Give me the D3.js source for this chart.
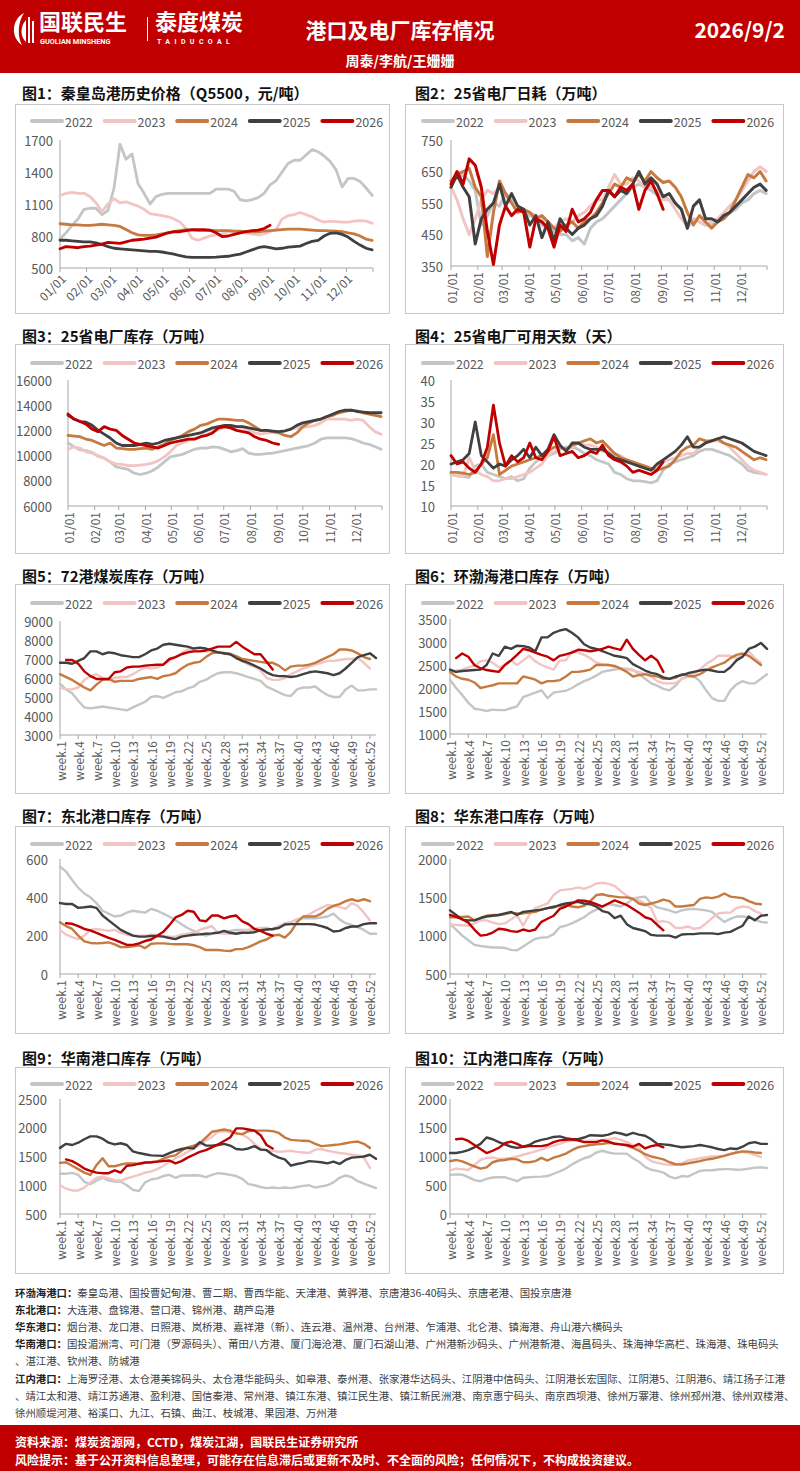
<!DOCTYPE html>
<html><head><meta charset="utf-8">
<script src="https://cdn.jsdelivr.net/npm/d3@7"></script>
<style>
body{margin:0;background:#fff;}
svg{display:block;font-family:"Noto Sans CJK SC","Noto Sans",sans-serif;}
</style>
</head><body>
<svg id="c" width="800" height="1471"></svg>
<script>
// ---------- categories / ticks ----------
const years = ["2022","2023","2024","2025","2026"];
const monthLabels = ["01/01","02/01","03/01","04/01","05/01","06/01","07/01","08/01","09/01","10/01","11/01","12/01"];
const monthStartDays = [0,31,59,90,120,151,181,212,243,273,304,334];
const weekTickNums = [1,4,7,10,13,16,19,22,25,28,31,34,37,40,43,46,49,52];

// ---------- Fig1: 秦皇岛港价格 (weekly samples, day = i*7) ----------
const p1_2022 = [770,830,900,960,1050,1060,1060,1000,1040,1250,1660,1520,1570,1290,1200,1100,1170,1190,1200,1200,1200,1200,1200,1200,1200,1200,1240,1240,1240,1220,1140,1130,1140,1160,1200,1280,1320,1400,1480,1510,1510,1560,1610,1590,1550,1500,1420,1260,1340,1340,1310,1250,1180];
const p1_2023 = [1180,1200,1210,1200,1200,1170,1110,1030,1100,1150,1110,1120,1100,1080,1050,1010,1000,990,980,960,930,870,780,760,780,800,810,820,840,840,830,830,820,810,820,840,860,960,990,1000,1020,1000,980,950,930,940,935,930,930,940,945,940,920];
const p1_2024 = [915,910,905,905,900,900,905,910,905,900,890,860,830,810,805,805,810,820,830,840,850,860,855,850,850,850,850,850,850,845,845,840,840,840,845,850,855,860,865,865,865,860,855,850,850,848,845,840,830,820,800,770,760];
const p1_2025 = [760,760,755,750,745,745,735,720,700,685,680,675,670,665,660,655,655,650,640,630,615,605,600,600,600,600,602,606,610,620,630,650,670,690,700,690,680,685,695,700,705,730,750,760,800,825,830,815,790,750,715,685,670];
const p1_2026 = [680,700,695,690,700,705,715,725,740,735,730,745,760,765,770,780,790,810,830,840,840,850,860,860,860,855,830,795,800,815,830,840,850,855,870,900];
const p1_yticks = [500,800,1100,1400,1700];

// ---------- Fig2: 25省电厂日耗 ----------
const p2_2022 = [620,630,640,620,590,480,510,550,540,580,560,540,520,510,500,480,470,460,450,450,430,440,420,470,490,500,520,540,560,580,600,610,600,590,575,570,560,550,530,470,500,490,480,480,490,500,520,530,550,560,580,590,580];
const p2_2023 = [600,560,500,450,500,560,590,580,600,570,550,540,520,520,510,500,490,470,490,500,490,510,520,540,560,560,600,640,610,610,630,620,600,600,590,560,560,530,500,480,500,490,480,490,500,520,540,560,590,620,650,665,650];
const p2_2024 = [620,640,650,660,600,570,380,520,620,580,550,520,530,520,500,510,490,470,460,480,490,470,490,500,520,550,580,610,600,630,620,640,620,650,630,615,620,600,570,520,480,510,490,470,490,500,520,560,600,640,630,650,620];
const p2_2025 = [600,640,600,570,420,500,530,550,610,540,580,540,530,480,510,440,490,430,500,470,450,470,480,500,510,540,590,570,590,580,610,650,610,630,610,570,580,550,530,470,540,560,500,500,490,510,520,540,560,580,600,610,590];
const p2_2026 = [610,650,610,690,670,600,460,355,480,540,510,530,520,410,500,490,470,410,480,460,530,490,500,520,560,590,590,570,600,590,610,530,590,620,580,530];
const p2_yticks = [350,450,550,650,750];

// ---------- Fig3: 25省电厂库存 ----------
const p3_2022 = [11000,10700,10450,10400,10250,9950,9800,9500,9100,9000,8900,8600,8500,8600,8800,9100,9500,9900,10000,10100,10300,10500,10600,10600,10700,10650,10500,10300,10400,10550,10200,10100,10100,10150,10200,10300,10400,10500,10600,10700,10800,11000,11300,11400,11400,11400,11400,11350,11200,11000,10900,10700,10500];
const p3_2023 = [10500,10700,10600,10300,10200,10000,9800,9500,9350,9300,9200,9200,9250,9300,9400,9600,9900,10300,10800,11000,11200,11350,11500,11700,11900,12100,12200,12300,12300,12200,12000,11800,11700,11800,11850,11900,12000,12100,12200,12250,12300,12400,12600,12900,12900,12900,12900,12800,12900,12800,12300,11900,11700];
const p3_2024 = [11600,11550,11500,11300,11200,11000,10800,11000,10600,10550,10500,10500,10550,10600,10500,10700,10900,11200,11400,11600,11900,12100,12400,12500,12700,12900,12900,12850,12800,12800,12600,12300,12000,12000,11900,11800,11600,11500,11800,12300,12600,12800,12900,13100,13200,13400,13500,13600,13550,13400,13300,13200,13100];
const p3_2025 = [13200,12900,12700,12650,12400,12000,11700,11400,11000,10800,10800,10800,10900,11000,10900,11000,11200,11300,11400,11500,11600,11700,11800,12000,12200,12300,12400,12400,12300,12300,12200,12100,12000,12000,11950,11900,11950,12100,12400,12600,12700,12800,12900,13100,13300,13500,13600,13600,13500,13450,13400,13400,13400];
const p3_2026 = [13300,12900,12700,12500,12100,11900,12300,12100,12000,11600,11300,11000,10900,10800,10700,10600,10800,11000,11100,11200,11300,11300,11500,11600,11800,12200,12300,12200,12000,11900,11800,11500,11300,11200,11000,10900];
const p3_yticks = [6000,8000,10000,12000,14000,16000];

// ---------- Fig4: 25省电厂可用天数 ----------
const p4_2022 = [17.5,17.2,17,16.8,19.5,20,18,17.5,17,16.5,17,16,16.5,19,20.5,21.5,22,22.5,23.5,24,24,23.5,22.5,22,21,20.5,20,18,17.5,16.5,16,16,15.8,15.5,16,18.5,20,20.5,21,21.5,22,23,23.5,23.5,23,22.5,22,21,20,18.5,18,17.8,17.5];
const p4_2023 = [17.5,17.2,17,21.5,18.5,17.5,17,16,16,16.5,16.5,17,17.5,18,19,20,22,23,24,23.5,24,25,24.5,24.5,24,23,23,22.5,22,21,20,19.5,19,18.5,19,20.5,21,21.5,22,22.5,22.5,24,25,25.5,25.5,25,24,22.5,21,19.5,18.5,18,17.5];
const p4_2024 = [18,18,17.8,17.5,18,20,21.5,27,17.5,18.5,19.5,20,20.5,21,21.5,22,23,24,24,23.5,24.5,25,25.5,26,25,25.5,24,22.5,21.5,21,20.5,20,19.5,19,18.5,19,19.5,21,23,24,24.5,26,25.5,25.5,26,25,24.5,24,23,22,21,21.5,21];
const p4_2025 = [20,20.5,21,22.5,30,22,20.5,19,20,19.5,21,22,23.5,21.5,24,22,23.5,27,24.5,23,25,25,24,23.5,23.5,23.5,22.5,21.5,21,20.5,20,19.5,19,18.5,20,21,22,23,24.5,26.5,24,24,25,25.5,26,26.5,26,25.5,25,24,23,22.5,22];
const p4_2026 = [22,20,20.5,19,18,20,24,34,25,19.5,22,20.5,21.5,25,21.5,21,23,26.5,22,22.5,23,21.5,22,23,22.5,24.5,22,21,20.5,19.5,18,18.5,18,17.5,18.5,20.5];
const p4_yticks = [10,15,20,25,30,35,40];

// ---------- Fig5: 72港煤炭库存 (week.1 ..) ----------
const p5_2022 = [5700,5400,5200,4800,4450,4400,4450,4500,4450,4400,4350,4300,4450,4600,4750,5000,5050,4950,5100,5250,5300,5450,5550,5800,5900,6100,6250,6300,6300,6250,6150,6050,5950,5850,5550,5400,5250,5100,5050,5400,5500,5500,5550,5300,5100,5000,5000,5400,5600,5350,5350,5400,5400];
const p5_2023 = [5500,5400,5400,5500,5900,6100,6200,6000,5900,6000,6050,6050,6200,6400,6550,6500,6550,6700,6900,7100,7300,7500,7450,7450,7400,7400,7350,7300,7300,7100,6900,6700,6600,6400,6000,5900,5900,6000,6200,6350,6500,6600,6700,6800,6900,6900,6950,7000,7000,7050,6800,6500];
const p5_2024 = [6200,6050,5900,5700,5500,5350,5650,5900,5950,5800,5850,5850,5850,5950,6000,6050,5950,6100,6150,6250,6500,6700,6800,6850,7100,7300,7350,7300,7250,7150,7000,6950,6900,6850,6800,6800,6650,6400,6600,6650,6650,6700,6800,6950,7100,7250,7500,7500,7450,7300,7100,7000];
const p5_2025 = [6800,6800,6750,6900,7050,7400,7400,7250,7350,7300,7200,7150,7100,7100,7250,7450,7550,7750,7800,7750,7700,7650,7550,7600,7550,7450,7350,7300,7250,7050,6900,6800,6650,6500,6300,6150,6100,6100,6050,6100,6200,6300,6350,6300,6250,6150,6250,6500,6800,7100,7200,7300,7050];
const p5_2026 = [null,6950,6950,6750,6350,6100,5950,5950,5950,6300,6350,6550,6600,6600,6650,6680,6700,6700,7000,7100,7250,7350,7400,7400,7450,7550,7650,7650,7650,7900,7650,7450,7250,7250,6850,6450];
const p5_yticks = [3000,4000,5000,6000,7000,8000,9000];

// ---------- Fig6: 环渤海港口库存 ----------
const p6_2022 = [2180,2000,1850,1680,1550,1530,1500,1530,1520,1520,1560,1600,1800,1850,1900,1950,1780,1900,1920,1940,2000,2080,2150,2200,2270,2350,2380,2400,2420,2420,2400,2300,2200,2100,2050,1980,1950,2050,2200,2250,2250,2150,1950,1780,1720,1720,1950,2080,2150,2100,2100,2200,2300];
const p6_2023 = [2320,2380,2400,2450,2480,2580,2600,2550,2450,2500,2600,2500,2600,2700,2580,2500,2450,2400,2600,2600,2800,2770,2720,2650,2550,2520,2500,2450,2430,2400,2380,2350,2300,2250,2150,2100,2100,2100,2200,2250,2300,2400,2520,2600,2700,2700,2700,2650,2700,2800,2650,2550];
const p6_2024 = [2350,2250,2200,2180,2120,2000,2030,2060,2100,2100,2100,2100,2250,2220,2180,2100,2150,2150,2170,2250,2350,2350,2370,2400,2500,2500,2500,2480,2420,2350,2250,2280,2300,2270,2250,2200,2200,2220,2300,2270,2250,2300,2380,2450,2500,2550,2650,2720,2750,2700,2600,2500];
const p6_2025 = [2400,2350,2370,2380,2390,2400,2500,2750,2700,2900,2850,2920,2910,2880,2800,3100,3100,3200,3250,3280,3200,3100,2950,2880,2850,2800,2750,2700,2680,2650,2520,2450,2380,2330,2300,2230,2200,2250,2280,2320,2350,2380,2400,2380,2350,2350,2450,2600,2680,2850,2900,2980,2850];
const p6_2026 = [null,2650,2750,2680,2500,2430,2390,2370,2350,2500,2600,2720,2850,2820,2770,2720,2680,2600,2700,2730,2770,2830,2820,2800,2820,2850,2900,2860,2830,3050,2850,2720,2600,2700,2600,2350];
const p6_yticks = [1000,1500,2000,2500,3000,3500];

// ---------- Fig7: 东北港口库存 ----------
const p7_2022 = [560,535,490,450,420,400,370,330,315,300,305,320,330,325,320,340,330,315,300,280,260,240,225,210,200,210,220,220,225,230,230,230,230,240,240,230,250,260,270,285,290,290,290,295,300,315,285,265,255,245,230,210,210];
const p7_2023 = [230,205,192,182,200,230,235,230,225,230,215,205,200,200,200,205,202,200,195,195,205,210,215,230,240,250,215,210,210,215,225,230,238,240,230,235,250,265,270,285,295,310,330,345,360,355,350,340,370,355,320,280];
const p7_2024 = [270,250,235,200,170,162,160,162,165,155,140,140,145,150,135,158,160,160,157,155,155,155,150,140,125,125,125,122,120,130,130,140,155,170,180,200,205,190,220,270,300,300,300,315,340,355,365,380,390,380,390,380];
const p7_2025 = [370,365,365,345,348,352,345,305,280,255,230,215,200,195,195,198,198,195,188,182,195,200,205,207,210,212,215,225,215,210,215,215,218,228,232,235,240,258,260,260,260,260,258,250,240,222,225,240,248,248,260,265,265];
const p7_2026 = [null,265,262,250,235,228,215,202,188,178,165,152,152,160,172,180,200,220,255,295,308,330,325,280,275,305,305,290,300,305,275,260,235,225,210,200];
const p7_yticks = [0,200,400,600];

// ---------- Fig8: 华东港口库存 ----------
const p8_2022 = [1150,1080,1000,940,880,865,855,845,845,840,815,810,860,910,960,975,980,1020,1110,1130,1160,1200,1240,1300,1340,1370,1410,1400,1380,1420,1480,1500,1510,1420,1370,1350,1330,1300,1330,1345,1350,1340,1330,1310,1240,1180,1220,1250,1250,1240,1210,1180,1170];
const p8_2023 = [1150,1140,1135,1130,1160,1200,1200,1170,1150,1160,1210,1260,1130,1270,1360,1390,1420,1530,1590,1600,1610,1630,1610,1640,1680,1690,1675,1650,1580,1520,1480,1460,1420,1360,1180,1190,1170,1100,1100,1120,1090,1100,1160,1230,1290,1300,1300,1360,1380,1370,1320,1290];
const p8_2024 = [1240,1240,1245,1250,1200,1230,1260,1270,1270,1280,1300,1290,1290,1300,1310,1340,1360,1380,1390,1400,1380,1370,1390,1450,1530,1540,1520,1510,1500,1500,1480,1420,1400,1420,1440,1470,1450,1380,1380,1390,1400,1480,1500,1490,1510,1550,1510,1500,1490,1450,1420,1410];
const p8_2025 = [1330,1270,1210,1200,1200,1230,1250,1260,1270,1290,1310,1270,1310,1320,1330,1340,1360,1370,1400,1420,1430,1440,1420,1410,1380,1320,1300,1230,1260,1150,1100,1080,1060,1010,1000,1000,1000,975,1015,1020,1020,1030,1030,1030,1020,1040,1050,1090,1130,1250,1200,1260,1270];
const p8_2026 = [1270,1245,1215,1170,1080,1000,1010,1040,1090,1080,1060,1050,1080,1060,1080,1180,1220,1260,1350,1380,1420,1460,1455,1440,1410,1380,1420,1460,1430,1400,1350,1300,1240,1215,1140,1070];
const p8_yticks = [500,1000,1500,2000];

// ---------- Fig9: 华南港口库存 ----------
const p9_2022 = [1200,1200,1215,1180,1060,1020,1080,1130,1080,1065,1060,1000,920,900,1050,1100,1120,1160,1180,1130,1170,1170,1175,1170,1140,1180,1210,1200,1180,1160,1110,1020,1000,970,950,960,950,960,950,970,990,1000,960,980,1000,1050,1130,1170,1140,1070,1030,990,950];
const p9_2023 = [1000,940,910,910,960,1050,1130,1150,1120,1090,1080,1120,1150,1180,1220,1240,1280,1340,1400,1470,1520,1580,1640,1700,1780,1840,1930,1940,1920,1910,1880,1820,1720,1640,1610,1600,1580,1590,1600,1580,1570,1560,1620,1630,1600,1580,1560,1550,1530,1520,1480,1300];
const p9_2024 = [1390,1400,1340,1280,1220,1180,1350,1470,1330,1330,1360,1380,1380,1370,1390,1400,1410,1460,1500,1520,1600,1660,1690,1730,1830,1930,1950,1970,1950,1900,1890,1940,1950,1950,1950,1940,1910,1830,1790,1780,1775,1770,1720,1680,1690,1700,1710,1730,1750,1760,1720,1650];
const p9_2025 = [1650,1720,1700,1740,1800,1850,1850,1810,1740,1710,1730,1700,1590,1560,1540,1520,1515,1510,1560,1600,1630,1650,1640,1750,1690,1690,1700,1720,1690,1630,1620,1640,1680,1620,1610,1530,1480,1450,1340,1370,1390,1420,1410,1400,1380,1410,1370,1440,1480,1490,1500,1530,1460];
const p9_2026 = [null,1450,1420,1360,1290,1250,1220,1210,1210,1260,1220,1340,1350,1375,1395,1400,1410,1420,1430,1380,1420,1480,1530,1580,1610,1660,1710,1770,1830,1990,1990,1970,1950,1870,1700,1640];
const p9_yticks = [500,1000,1500,2000,2500];

// ---------- Fig10: 江内港口库存 ----------
const p10_2022 = [680,690,685,640,590,570,610,635,640,640,605,570,630,640,645,650,660,700,740,790,860,920,970,1000,1070,1100,1070,1050,1050,1050,970,910,820,770,750,720,650,620,660,650,700,750,760,760,775,780,780,770,775,790,805,810,800];
const p10_2023 = [760,790,780,765,850,940,975,985,960,960,975,1000,1030,1060,1090,1120,1160,1190,1220,1260,1275,1280,1270,1275,1280,1290,1300,1320,1290,1250,1200,1160,1000,920,890,870,850,855,880,930,950,970,990,1000,1000,1020,1050,1070,1080,1060,1030,990];
const p10_2024 = [920,940,915,870,830,790,810,900,930,940,960,950,900,900,920,975,930,980,1010,1050,1110,1160,1180,1200,1210,1220,1240,1230,1210,1190,1150,1100,1040,1000,975,950,900,865,860,880,900,920,945,960,985,1010,1040,1070,1090,1085,1070,1060];
const p10_2025 = [1060,1060,1080,1110,1160,1220,1330,1300,1250,1210,1170,1150,1170,1200,1260,1290,1310,1340,1350,1320,1300,1300,1330,1370,1365,1360,1380,1420,1400,1370,1410,1380,1360,1300,1220,1210,1200,1180,1160,1170,1180,1200,1180,1160,1130,1110,1140,1130,1170,1230,1250,1220,1220];
const p10_2026 = [null,1300,1310,1270,1200,1130,1060,1100,1150,1230,1260,1220,1170,1180,1180,1180,1200,1250,1280,1290,1300,1280,1250,1250,1250,1280,1260,1220,1210,1200,1170,1220,1140,1180,1200,1160];
const p10_yticks = [0,500,1000,1500,2000];

// ---------- notes ----------
const notes = [
 ["环渤海港口：","秦皇岛港、国投曹妃甸港、曹二期、曹西华能、天津港、黄骅港、京唐港36-40码头、京唐老港、国投京唐港"],
 ["东北港口：","大连港、盘锦港、营口港、锦州港、葫芦岛港"],
 ["华东港口：","烟台港、龙口港、日照港、岚桥港、嘉祥港（新）、连云港、温州港、台州港、乍浦港、北仑港、镇海港、舟山港六横码头"],
 ["华南港口：","国投湄洲湾、可门港（罗源码头）、莆田八方港、厦门海沧港、厦门石湖山港、广州港新沙码头、广州港新港、海昌码头、珠海神华高栏、珠海港、珠电码头"],
 ["","、湛江港、钦州港、防城港"],
 ["江内港口：","上海罗泾港、太仓港美锦码头、太仓港华能码头、如皋港、泰州港、张家港华达码头、江阴港中信码头、江阴港长宏国际、江阴港5、江阴港6、靖江扬子江港"],
 ["","、靖江太和港、靖江苏通港、盈利港、国信秦港、常州港、镇江东港、镇江民生港、镇江新民洲港、南京惠宁码头、南京西坝港、徐州万寨港、徐州邳州港、徐州双楼港、"],
 ["","徐州顺堤河港、裕溪口、九江、石镇、曲江、枝城港、果园港、万州港"]
];

// ================= drawing =================
const colors = ["#C3C6C6","#F2C4C4","#C67A3F","#404040","#C00000"];
const RED = "#C00000";
const svg = d3.select("#c");

// header
svg.append("rect").attr("x",0).attr("y",0).attr("width",800).attr("height",73).attr("fill",RED);
const logo = svg.append("g");
logo.append("path").attr("d","M24,13 C12,19 10,37 22,45 C17,36 18,22 24,13 Z").attr("fill","#fff");
logo.append("path").attr("d","M26,20 C20,26 20,37 26,42 L26,20 Z").attr("fill","#fff");
logo.append("rect").attr("x",28).attr("y",17).attr("width",2).attr("height",26).attr("fill","#fff");
logo.append("rect").attr("x",32).attr("y",21).attr("width",2).attr("height",22).attr("fill","#fff");
logo.append("text").attr("x",39).attr("y",30).attr("fill","#fff").attr("font-size",22).attr("font-weight",700).text("国联民生");
logo.append("text").attr("x",40).attr("y",44).attr("fill","#fff").attr("font-size",7.3).attr("font-weight",700).attr("font-family","Roboto,Noto Sans,sans-serif").text("GUOLIAN MINSHENG");
logo.append("rect").attr("x",147).attr("y",17).attr("width",1).attr("height",24).attr("fill","#fff");
logo.append("text").attr("x",155).attr("y",30).attr("fill","#fff").attr("font-size",22).attr("font-weight",700).text("泰度煤炭");
logo.append("text").attr("x",157).attr("y",44).attr("fill","#fff").attr("font-size",7).attr("font-weight",700).attr("letter-spacing",4.4).attr("font-family","Roboto,Noto Sans,sans-serif").text("TAIDUCOAL");
svg.append("text").attr("x",400).attr("y",29).attr("text-anchor","middle").attr("dominant-baseline","central").attr("fill","#fff").attr("font-size",21).attr("font-weight",700).text("港口及电厂库存情况");
svg.append("text").attr("x",785).attr("y",29).attr("text-anchor","end").attr("dominant-baseline","central").attr("fill","#fff").attr("font-size",21).attr("font-weight",700).text("2026/9/2");
svg.append("text").attr("x",400).attr("y",60).attr("text-anchor","middle").attr("dominant-baseline","central").attr("fill","#fff").attr("font-size",14).attr("font-weight",700).text("周泰/李航/王姗姗");

const panels = [
 {title:"图1：秦皇岛港历史价格（Q5500，元/吨）", col:0, row:0, plot:[60,140,373,268], yLabX:53, ydom:[500,1700], yt:p1_yticks, mode:"day", rot:-45, data:[p1_2022,p1_2023,p1_2024,p1_2025,p1_2026], lw:2.8},
 {title:"图2：25省电厂日耗（万吨）", col:1, row:0, plot:[451,140,767,266], yLabX:443, ydom:[350,750], yt:p2_yticks, mode:"day", rot:-90, data:[p2_2022,p2_2023,p2_2024,p2_2025,p2_2026], lw:3},
 {title:"图3：25省电厂库存（万吨）", col:0, row:1, plot:[68,380,382,506], yLabX:52, ydom:[6000,16000], yt:p3_yticks, mode:"day", rot:-90, data:[p3_2022,p3_2023,p3_2024,p3_2025,p3_2026], lw:2.8},
 {title:"图4：25省电厂可用天数（天）", col:1, row:1, plot:[451,380,767,506], yLabX:435, ydom:[10,40], yt:p4_yticks, mode:"day", rot:-90, data:[p4_2022,p4_2023,p4_2024,p4_2025,p4_2026], lw:2.8},
 {title:"图5：72港煤炭库存（万吨）", col:0, row:2, plot:[60,621,376,735], yLabX:53, ydom:[3000,9000], yt:p5_yticks, mode:"week", rot:-90, data:[p5_2022,p5_2023,p5_2024,p5_2025,p5_2026], lw:2.4},
 {title:"图6：环渤海港口库存（万吨）", col:1, row:2, plot:[450,619,767,734], yLabX:447, ydom:[1000,3500], yt:p6_yticks, mode:"week", rot:-90, data:[p6_2022,p6_2023,p6_2024,p6_2025,p6_2026], lw:2.4},
 {title:"图7：东北港口库存（万吨）", col:0, row:3, plot:[60,859,376,974], yLabX:48, ydom:[0,600], yt:p7_yticks, mode:"week", rot:-90, data:[p7_2022,p7_2023,p7_2024,p7_2025,p7_2026], lw:2.4},
 {title:"图8：华东港口库存（万吨）", col:1, row:3, plot:[450,859,767,974], yLabX:447, ydom:[500,2000], yt:p8_yticks, mode:"week", rot:-90, data:[p8_2022,p8_2023,p8_2024,p8_2025,p8_2026], lw:2.4},
 {title:"图9：华南港口库存（万吨）", col:0, row:4, plot:[60,1099,376,1214], yLabX:47, ydom:[500,2500], yt:p9_yticks, mode:"week", rot:-90, data:[p9_2022,p9_2023,p9_2024,p9_2025,p9_2026], lw:2.4},
 {title:"图10：江内港口库存（万吨）", col:1, row:4, plot:[450,1099,767,1214], yLabX:447, ydom:[0,2000], yt:p10_yticks, mode:"week", rot:-90, data:[p10_2022,p10_2023,p10_2024,p10_2025,p10_2026], lw:2.4}
];
const rowTitleY = [92,335,575,815,1057];
const rowBox = [[104,313],[344,553],[584,793],[826,1033],[1067,1273]];
const rowLegY = [121,363,603,844,1084];
const colBox = [[15,389],[405,783]];
const colLegX = [32,423];
const AX = "#A6A6A6", LBL = "#595959";

panels.forEach(p => {
  const g = svg.append("g");
  const [bx0,bx1] = colBox[p.col], [by0,by1] = rowBox[p.row];
  g.append("rect").attr("x",bx0+0.5).attr("y",by0+0.5).attr("width",bx1-bx0).attr("height",by1-by0)
    .attr("fill","none").attr("stroke","#C8C8C8").attr("stroke-width",1);
  g.append("text").attr("x",p.col===0?22:415).attr("y",rowTitleY[p.row]).attr("dominant-baseline","central")
    .attr("font-size",15).attr("font-weight",700).attr("fill","#111").text(p.title);
  // legend
  const lx0 = colLegX[p.col], ly = rowLegY[p.row];
  years.forEach((yr,i) => {
    const lx = lx0 + i*72.6;
    g.append("line").attr("x1",lx).attr("x2",lx+30).attr("y1",ly).attr("y2",ly)
      .attr("stroke",colors[i]).attr("stroke-width",4).attr("stroke-linecap","round");
    g.append("text").attr("x",lx+33).attr("y",ly).attr("dominant-baseline","central")
      .attr("font-size",12.5).attr("fill",LBL).text(yr);
  });
  const [x0,y0,x1,y1] = p.plot;
  const y = d3.scaleLinear().domain(p.ydom).range([y1,y0]);
  let x, xv, tickPos, tickLab;
  if (p.mode === "day") {
    x = d3.scaleLinear().domain([0,365]).range([x0,x1]);
    xv = (d,i) => x(i*7);
    tickPos = monthStartDays.map(d => x(d)).concat([x(365)]);
    tickLab = monthLabels;
  } else {
    x = d3.scaleLinear().domain([1,53]).range([x0,x1]);
    xv = (d,i) => x(i+1);
    tickPos = weekTickNums.map(w => x(w));
    tickLab = weekTickNums.map(w => "week." + w);
  }
  // y labels
  p.yt.forEach(t => {
    g.append("text").attr("x",p.yLabX).attr("y",y(t)).attr("text-anchor","end").attr("dominant-baseline","central")
      .attr("font-size",13).attr("fill",LBL).text(t);
  });
  // axes lines
  g.append("line").attr("x1",x0).attr("x2",x0).attr("y1",y0).attr("y2",y1).attr("stroke",AX).attr("stroke-width",1);
  g.append("line").attr("x1",x0).attr("x2",x1).attr("y1",y1).attr("y2",y1).attr("stroke",AX).attr("stroke-width",1);
  tickPos.forEach(tp => {
    g.append("line").attr("x1",tp).attr("x2",tp).attr("y1",y1).attr("y2",y1+4).attr("stroke",AX).attr("stroke-width",1);
  });
  tickLab.forEach((lab,i) => {
    const tx = tickPos[i];
    if (p.rot === -45) {
      g.append("text").attr("transform",`translate(${tx+3},${y1+8}) rotate(-45)`).attr("text-anchor","end")
        .attr("dominant-baseline","central").attr("font-size",12).attr("fill",LBL).text(lab);
    } else {
      g.append("text").attr("transform",`translate(${tx},${y1+6}) rotate(-90)`).attr("text-anchor","end")
        .attr("dominant-baseline","central").attr("font-size",12).attr("fill",LBL).text(lab);
    }
  });
  // series
  const line = d3.line().defined(d => d != null).x((d,i) => xv(d,i)).y(d => y(d)).curve(d3.curveLinear);
  p.data.forEach((arr,i) => {
    g.append("path").attr("d", line(arr)).attr("fill","none").attr("stroke",colors[i])
      .attr("stroke-width",p.lw).attr("stroke-linejoin","round").attr("stroke-linecap","round");
  });
});

// notes
const ng = svg.append("g");
const noteY = [1292,1309,1326,1343,1360,1378,1395,1412];
notes.forEach((n,i) => {
  const t = ng.append("text").attr("x",15).attr("y",noteY[i]).attr("dominant-baseline","central").attr("font-size",10.4);
  if (n[0]) t.append("tspan").attr("font-weight",700).attr("fill","#222").text(n[0]);
  t.append("tspan").attr("fill","#404040").text(n[1]);
});
// footer
svg.append("rect").attr("x",0).attr("y",1425).attr("width",800).attr("height",46).attr("fill",RED);
svg.append("text").attr("x",15).attr("y",1441).attr("dominant-baseline","central").attr("fill","#fff").attr("font-size",12).attr("font-weight",700)
  .text("资料来源：煤炭资源网，CCTD，煤炭江湖，国联民生证券研究所");
svg.append("text").attr("x",15).attr("y",1459).attr("dominant-baseline","central").attr("fill","#fff").attr("font-size",12).attr("font-weight",700)
  .text("风险提示：基于公开资料信息整理，可能存在信息滞后或更新不及时、不全面的风险；任何情况下，不构成投资建议。");
</script>
</body></html>
